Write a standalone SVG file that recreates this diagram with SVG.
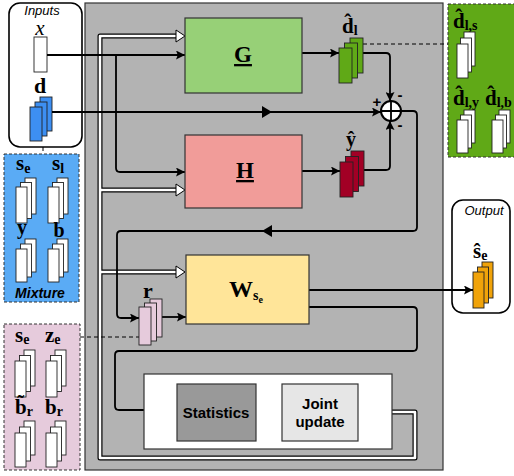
<svg xmlns="http://www.w3.org/2000/svg" width="514" height="476" viewBox="0 0 514 476">
<style>
.ln{fill:none;stroke:#000;stroke-width:1.8;stroke-linejoin:round}
.thin{fill:none;stroke:#000;stroke-width:1.2}
.dash{fill:none;stroke:#000;stroke-width:1;stroke-dasharray:4 3}
.blk{fill:none;stroke:#000;stroke-width:5;stroke-linejoin:round}
.wht{fill:none;stroke:#fff;stroke-width:2.6;stroke-linejoin:round}
.wah{fill:#fff;stroke:#000;stroke-width:1}
.box{stroke:#333;stroke-width:1.2}
.st rect{stroke:#222;stroke-width:0.9}
.m{font-family:"Liberation Serif","DejaVu Serif",serif;font-weight:bold;fill:#000}
.sans{font-family:"Liberation Sans",Arial,sans-serif}
</style>
<defs>
<marker id="ah" viewBox="0 0 10 10" refX="10" refY="5" markerWidth="5" markerHeight="5" orient="auto" markerUnits="strokeWidth"><path d="M0,0 L10,5 L0,10 L2,5 z" fill="#000"/></marker>
<marker id="ahs" viewBox="0 0 10 10" refX="10" refY="5" markerWidth="6" markerHeight="6" orient="auto" markerUnits="strokeWidth"><path d="M0,0 L10,5 L0,10 L2,5 z" fill="#000"/></marker>
</defs>

<!-- main gray frame -->
<rect id="frame" x="85" y="3" width="358" height="467" fill="#b3b3b3" stroke="#333" stroke-width="1.2"/>

<!-- side panels -->
<g id="inputs">
<rect x="9" y="3" width="73" height="144" rx="11" fill="#fff" stroke="#000" stroke-width="1.6"/>
<text x="42" y="15" class="sans" font-size="13" font-style="italic" text-anchor="middle">Inputs</text>
<text x="40" y="35" font-family="Liberation Serif,serif" font-style="italic" font-size="21" text-anchor="middle">x</text>
<rect x="34" y="37" width="13" height="35" fill="#fff" stroke="#222" stroke-width="0.9"/>
<text x="40" y="93" class="m" font-size="22" text-anchor="middle">d</text>
<g class="st" fill="#3d8ff2"><rect x="40" y="97" width="12" height="34"/><rect x="35" y="102" width="12" height="34"/><rect x="30" y="107" width="12" height="34"/></g>
</g>

<g id="mixture">
<rect x="4" y="154" width="75" height="148" fill="#5aabf5" stroke="#333" stroke-width="1" stroke-dasharray="3 2"/>
<text x="16" y="170" class="m" font-size="21">s<tspan font-size="14" dy="3">e</tspan></text>
<text x="52" y="170" class="m" font-size="21">s<tspan font-size="14" dy="3">l</tspan></text>
<g class="st" fill="#fff"><rect x="25" y="178" width="11" height="36"/><rect x="20.5" y="182.5" width="11" height="36"/><rect x="16" y="187" width="11" height="36"/></g>
<g class="st" fill="#fff"><rect x="57" y="178" width="11" height="36"/><rect x="52.5" y="182.5" width="11" height="36"/><rect x="48" y="187" width="11" height="36"/></g>
<text x="22" y="234" class="m" font-size="20" text-anchor="middle">y</text>
<text x="59" y="237" class="m" font-size="20" text-anchor="middle">b</text>
<g class="st" fill="#fff"><rect x="25" y="239" width="11" height="33"/><rect x="20.5" y="244" width="11" height="33"/><rect x="16" y="249" width="11" height="33"/></g>
<g class="st" fill="#fff"><rect x="57" y="239" width="11" height="33"/><rect x="52.5" y="244" width="11" height="33"/><rect x="48" y="249" width="11" height="33"/></g>
<text x="40" y="298" class="sans" font-size="14" font-weight="bold" font-style="italic" text-anchor="middle">Mixture</text>
</g>

<g id="reference">
<rect x="4" y="324" width="76" height="146" fill="#e6cbdc" stroke="#333" stroke-width="1" stroke-dasharray="3 2"/>
<text x="15" y="342" class="m" font-size="21">s<tspan font-size="14" dy="2">e</tspan></text>
<text x="45" y="342" class="m" font-size="21">z<tspan font-size="14" dy="2">e</tspan></text>
<g class="st" fill="#fff"><rect x="24" y="350" width="11" height="36"/><rect x="19.5" y="355.5" width="11" height="36"/><rect x="15" y="361" width="11" height="36"/></g>
<g class="st" fill="#fff"><rect x="55" y="350" width="11" height="36"/><rect x="50.5" y="355.5" width="11" height="36"/><rect x="46" y="361" width="11" height="36"/></g>
<text x="15" y="414" class="m" font-size="21">b̃<tspan font-size="14" dy="2">r</tspan></text>
<text x="45" y="414" class="m" font-size="21">b<tspan font-size="14" dy="2">r</tspan></text>
<g class="st" fill="#fff"><rect x="24" y="421" width="11" height="34"/><rect x="19.5" y="427" width="11" height="34"/><rect x="15" y="433" width="11" height="34"/></g>
<g class="st" fill="#fff"><rect x="55" y="421" width="11" height="34"/><rect x="50.5" y="427" width="11" height="34"/><rect x="46" y="433" width="11" height="34"/></g>
</g>

<g id="noise-panel">
<rect x="448" y="4" width="70" height="153" fill="#60a917" stroke="#333" stroke-width="1" stroke-dasharray="3 2"/>
<text x="453" y="28" class="m" font-size="21">d̂<tspan font-size="14" dy="2">l,s</tspan></text>
<g class="st" fill="#fff"><rect x="464" y="32" width="11" height="34"/><rect x="460.5" y="38" width="11" height="34"/><rect x="457" y="44" width="11" height="34"/></g>
<text x="453" y="105" class="m" font-size="21">d̂<tspan font-size="14" dy="2">l,y</tspan></text>
<text x="485" y="105" class="m" font-size="21">d̂<tspan font-size="14" dy="2">l,b</tspan></text>
<g class="st" fill="#fff"><rect x="464" y="110" width="11" height="33"/><rect x="460.5" y="115" width="11" height="33"/><rect x="457" y="120" width="11" height="33"/></g>
<g class="st" fill="#fff"><rect x="499" y="110" width="11" height="33"/><rect x="495.5" y="115" width="11" height="33"/><rect x="492" y="120" width="11" height="33"/></g>
</g>

<g id="output">
<rect x="452" y="200" width="58" height="113" rx="11" fill="#fff" stroke="#000" stroke-width="1.6"/>
<text x="484" y="215" class="sans" font-size="13" font-style="italic" text-anchor="middle">Output</text>
<text x="473" y="258" class="m" font-size="21">ŝ<tspan font-size="14" dy="2">e</tspan></text>
<g class="st" fill="#f0a30a"><rect x="482" y="262" width="11" height="36"/><rect x="477.5" y="267" width="11" height="36"/><rect x="473" y="272" width="11" height="36"/></g>
</g>

<!-- white double-line paths -->
<g id="feedback-white">
<path class="blk" d="M358,412 H415 V458 H100 V36 H177"/>
<path class="blk" d="M102,190 H177 M102,272 H177"/>
<path class="wht" d="M358,412 H415 V458 H100 V36 H178"/>
<path class="wht" d="M101,190 H178 M101,272 H178"/>
<polygon class="wah" points="176,30 185,36 176,42"/>
<polygon class="wah" points="176,184 185,190 176,196"/>
<polygon class="wah" points="176,266 185,272 176,278"/>
</g>

<!-- connectors -->
<g id="connectors">
<path class="ln" d="M47,55 H185" marker-end="url(#ah)"/>
<path class="ln" d="M116,55 V168 Q116,172 120,172 H185" marker-end="url(#ah)"/>
<path class="ln" d="M52,112 H381" marker-end="url(#ah)"/>
<polygon points="262,106 272,112 262,118" fill="#000"/>
<path class="ln" d="M302,53 H339" marker-end="url(#ah)"/>
<path class="ln" d="M363,53 H386 Q390,53 390,57 V101" marker-end="url(#ah)"/>
<path class="ln" d="M302,171 H340" marker-end="url(#ah)"/>
<path class="ln" d="M364,170 H386 Q390,170 390,166 V121" marker-end="url(#ah)"/>
<path class="ln" d="M401,111 H413 Q417,111 417,115 V227 Q417,231 413,231 H121 Q117,231 117,235 V314 Q117,318 121,318 H139" marker-end="url(#ah)"/>
<polygon points="272,225 262,231 272,237" fill="#000"/>
<path class="ln" d="M162,317 H186" marker-end="url(#ah)"/>
<path class="ln" d="M309,290 H473" marker-end="url(#ah)"/>
<path class="ln" d="M309,307 H413 Q417,307 417,311 V347 Q417,351 413,351 H119 Q115,351 115,355 V406 Q115,410 119,410 H177" stroke-width="1.4" marker-end="url(#ahs)"/>
<path class="thin" d="M256,412 H282" marker-end="url(#ahs)"/>
<path class="dash" d="M43,147 V154"/>
<path class="dash" d="M363,44 H448"/>
<path class="dash" d="M80,337 H139"/>
</g>

<g id="G">
<rect class="box" x="185" y="18" width="117" height="75" fill="#97d077"/>
<text x="243" y="62" class="m" font-size="23" text-anchor="middle" text-decoration="underline">G</text>
</g>
<g id="H">
<rect class="box" x="185" y="135" width="117" height="73" fill="#f19c99"/>
<text x="245" y="178" class="m" font-size="23" text-anchor="middle" text-decoration="underline">H</text>
</g>
<g id="W">
<rect class="box" x="186" y="255" width="123" height="69" fill="#ffe599"/>
<text x="229" y="297" class="m" font-size="24">W<tspan font-size="14" dy="3">s</tspan><tspan font-size="10" dy="3">e</tspan></text>
</g>

<g id="dl-stack">
<text x="342" y="33" class="m" font-size="21">d̂<tspan font-size="14" dy="2">l</tspan></text>
<g class="st" fill="#60a917"><rect x="350" y="38" width="13" height="35"/><rect x="344.5" y="43" width="13" height="35"/><rect x="339" y="48" width="13" height="35"/></g>
</g>
<g id="yhat-stack">
<text x="351" y="146" class="m" font-size="20" text-anchor="middle">ŷ</text>
<g class="st" fill="#a20025"><rect x="351" y="151" width="13" height="35"/><rect x="345.5" y="156.5" width="13" height="35"/><rect x="340" y="162" width="13" height="35"/></g>
</g>
<g id="r-stack">
<text x="148" y="298" class="m" font-size="22" text-anchor="middle">r</text>
<g class="st" fill="#e6cbdc"><rect x="150" y="299" width="12" height="38"/><rect x="144.5" y="303" width="12" height="38"/><rect x="139" y="307" width="12" height="38"/></g>
</g>

<g id="sum">
<circle cx="391" cy="111" r="10" fill="#fff" stroke="#000" stroke-width="2"/>
<path d="M381,111 H401 M391,101 V121" stroke="#000" stroke-width="1.8"/>
<text x="377" y="107" class="sans" font-size="15" font-weight="bold" text-anchor="middle">+</text>
<text x="400" y="100" class="sans" font-size="15" font-weight="bold" text-anchor="middle">-</text>
<text x="400" y="130" class="sans" font-size="15" font-weight="bold" text-anchor="middle">-</text>
</g>

<g id="update-block">
<rect x="144" y="374" width="248" height="75" fill="#fff" stroke="#333" stroke-width="1.2"/>
</g>
<g id="statistics">
<rect class="box" x="177" y="384" width="79" height="57" fill="#999"/>
<text x="216" y="418" class="sans" font-size="15" font-weight="bold" text-anchor="middle">Statistics</text>
</g>
<g id="joint">
<rect class="box" x="282" y="384" width="76" height="57" fill="#e6e6e6"/>
<text x="320" y="409" class="sans" font-size="15" font-weight="bold" text-anchor="middle">Joint</text>
<text x="320" y="427" class="sans" font-size="15" font-weight="bold" text-anchor="middle">update</text>
</g>
</svg>
